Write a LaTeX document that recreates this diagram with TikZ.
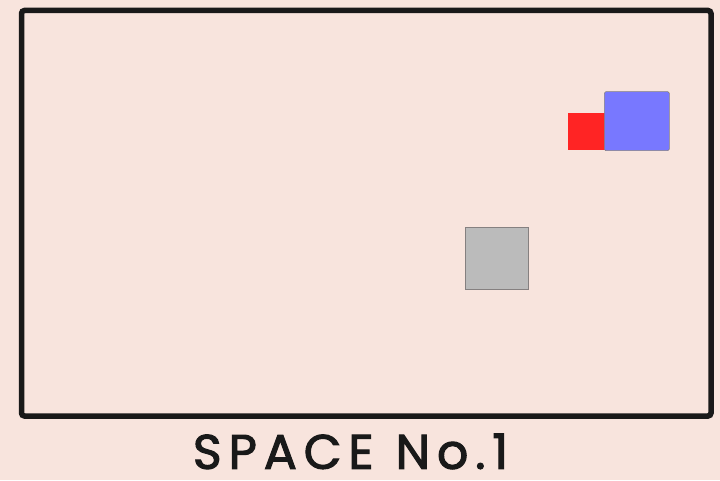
\documentclass[tikz,border=0pt]{standalone}
\usepackage{fontspec}
\setmainfont{Poppins}
\usepackage{graphicx}
\definecolor{bgpink}{HTML}{F8E4DD}
\definecolor{redsq}{HTML}{FF2424}
\definecolor{bluesq}{HTML}{7878FF}
\definecolor{graysq}{HTML}{BBBBBB}
\definecolor{grayedge}{HTML}{858080}
\newfontfamily\captionfont[LetterSpace=14,FakeBold=2.2]{Poppins}
\begin{document}
\begin{tikzpicture}[x=1pt,y=1pt,
  frame/.style={draw=black!90,line width=5.5pt,rounded corners=3pt},
  sq/.style={draw=none}]
\useasboundingbox (0,0) rectangle (720,480);
\fill[bgpink] (0,0) rectangle (720,480);
% frame (image y flipped: y_tikz = 480 - y_img)
\draw[frame] (21.5,469.5) rectangle (711,64);
% squares
\node[sq,fill=redsq,inner sep=0pt,minimum width=38pt,minimum height=37pt,anchor=south west] (red) at (568,330) {};
\node[draw=grayedge,line width=0.6pt,fill=bluesq,inner sep=0pt,minimum width=65pt,minimum height=59pt,anchor=south west,rounded corners=1.5pt] (blue) at (604,329) {};
\node[draw=grayedge,line width=0.7pt,fill=graysq,inner sep=0pt,minimum width=63pt,minimum height=62pt,anchor=south west] (gray) at (465,190) {};
% caption
\node[inner sep=0pt,text=black!90] (caption) at (350.5,28.5) {\resizebox{315pt}{35pt}{\captionfont SPACE\hspace{0.45em}No.1}};
\end{tikzpicture}
\end{document}
